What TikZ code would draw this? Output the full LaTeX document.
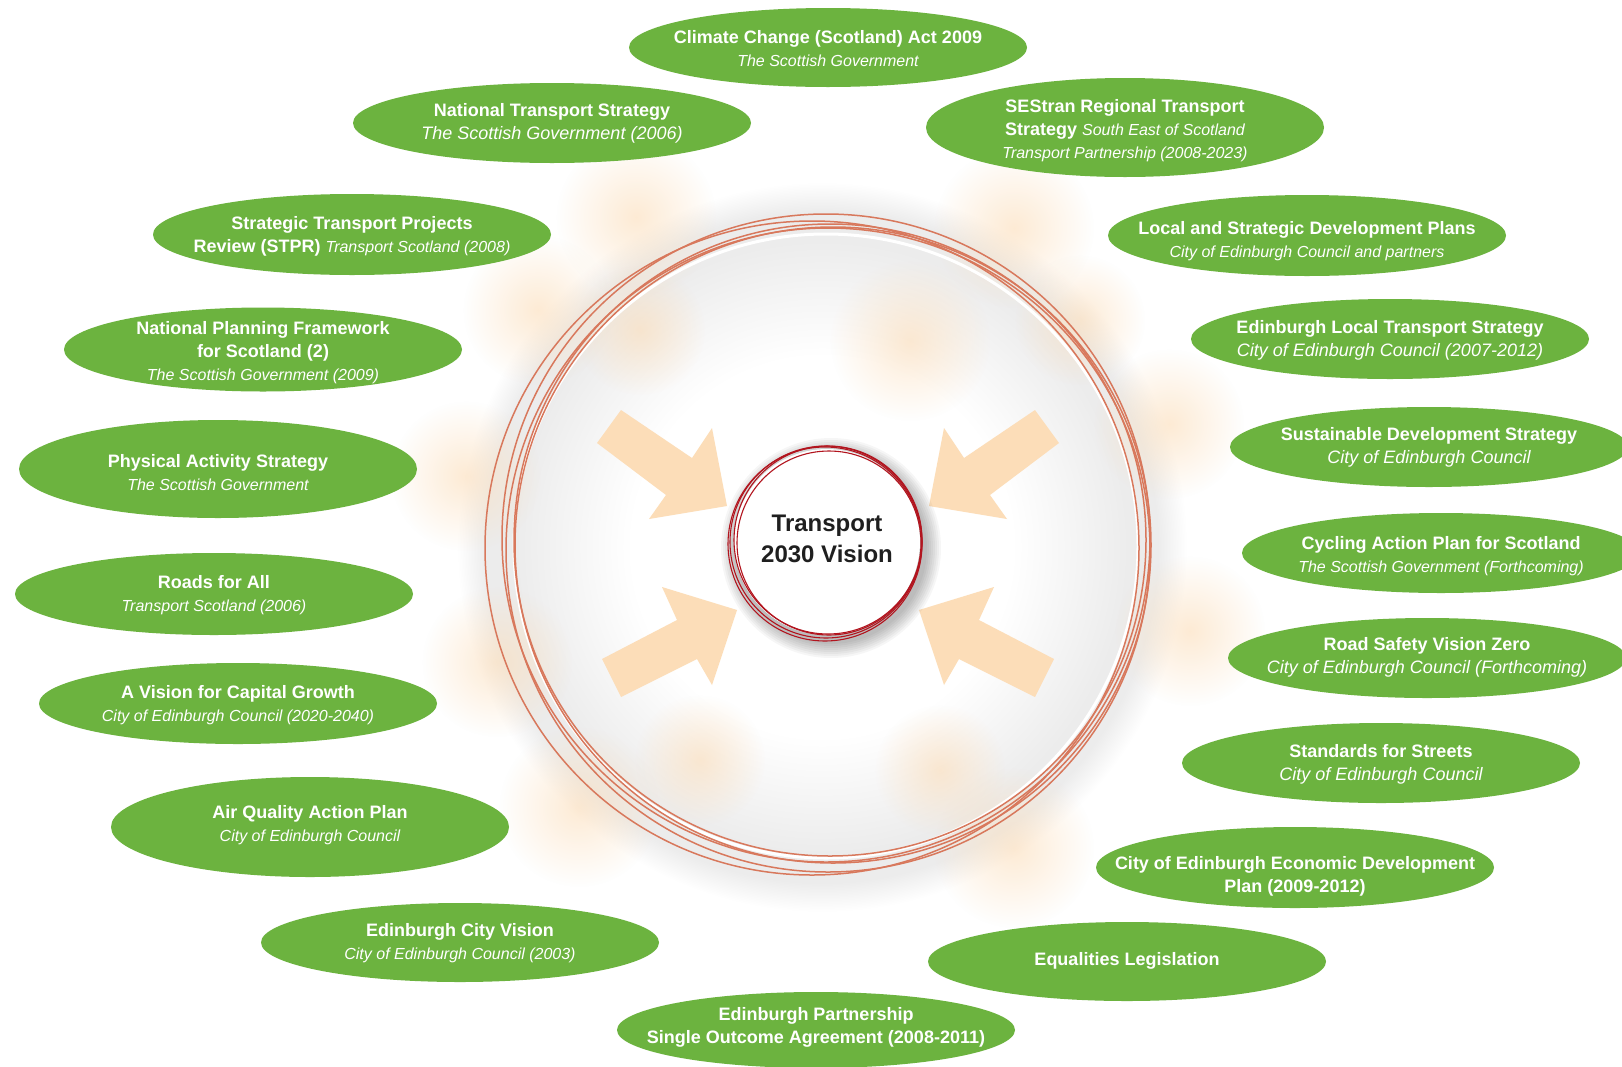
\documentclass[tikz,border=0pt]{standalone}
\usepackage{fontspec}
\setmainfont{Liberation Sans}
\usetikzlibrary{fadings}
\definecolor{bubgreen}{RGB}{108,179,63}
\definecolor{peach}{RGB}{252,221,184}
\definecolor{salmon}{RGB}{216,120,92}
\definecolor{ringred}{RGB}{178,20,30}
\definecolor{hazegray}{RGB}{236,236,236}
\pgfdeclareradialshading{haze}{\pgfpointorigin}{color(0bp)=(white); color(13bp)=(white); color(21bp)=(hazegray); color(23bp)=(hazegray); color(25bp)=(white); color(50bp)=(white)}
\tikzfading[name=softblob, inner color=transparent!40, outer color=transparent!100]
\tikzset{
  bubtext/.style={text=white, align=center, font=\fontsize{18}{23}\selectfont\bfseries, inner sep=0pt},
  bigring/.style={draw=salmon, line width=1.5pt},
  redring/.style={draw=ringred, line width=1.1pt},
  arrowshape/.style={fill=peach},
  blob/.style={fill=peach, path fading=softblob},
  centertext/.style={align=center, font=\fontsize{24}{31}\selectfont\bfseries, text=black!88, inner sep=0pt},
}
\newcommand{\subit}{\fontsize{16}{23}\selectfont\mdseries\itshape}
\newcommand{\subbig}{\fontsize{18}{23}\selectfont\mdseries\itshape}
% name, x, y, y radius, text shift, text
\newcommand{\bub}[6]{\fill[bubgreen] (#2,#3) ellipse [x radius=199pt, y radius=#4pt]; \node[bubtext] (#1) at (#2,#3+#5) {#6};}
\begin{document}
\begin{tikzpicture}[x=1pt,y=-1pt]
\useasboundingbox (0,0) rectangle (1622,1066);
\fill[white] (0,0) rectangle (1622,1066);
% haze round the big ring
\shade[shading=haze] (822,547) circle (365pt);
% soft blobs
\foreach \bx/\by/\br in {636/217/80, 1014/228/80, 538/310/75, 910/341/80, 466/476/75, 1169/424/75, 1190/631/75, 497/662/75, 579/807/80, 1014/848/80, 700/760/65, 940/770/65, 640/330/65, 1080/320/65}
  \fill[blob] (\bx,\by) circle (\br pt);
% big rings
\draw[white, line width=3pt] (826,546) circle (312pt);
\draw[bigring] (812,548) circle (327pt);
\draw[bigring] (830,540) circle (316pt);
\draw[bigring] (833,545) circle (318pt);
\draw[bigring] (828,550) circle (322pt);
\draw[bigring] (826,538) circle (324pt);
% arrows
\fill[arrowshape] (621,410) -- (692,458) -- (712,428) -- (727,506) -- (649,519) -- (666,495) -- (597,443) -- cycle;
\fill[arrowshape] (1035,410) -- (964,458) -- (944,428) -- (929,506) -- (1007,519) -- (990,495) -- (1059,443) -- cycle;
\fill[arrowshape] (602,659) -- (677,620) -- (662,587) -- (737,610) -- (712,685) -- (697,659) -- (621,697) -- cycle;
\fill[arrowshape] (1054,659) -- (979,620) -- (994,587) -- (919,610) -- (944,685) -- (959,659) -- (1035,697) -- cycle;
% inner circle with shadow
\foreach \r in {96,98,...,110}
  \fill[black, opacity=0.035] (831,548) circle (\r pt);
\fill[white] (827,542) circle (93pt);
\draw[redring] (826,542) circle (96pt);
\draw[redring] (828,540) circle (94pt);
\draw[redring] (825,544) circle (97pt);
\draw[redring] (829,543) circle (92pt);
\node[centertext] (core) at (827,539) {Transport\\2030 Vision};
% bubbles
\bub{cc}{828}{47.5}{39.5}{1.5}{Climate Change (Scotland) Act 2009\\{\subit The Scottish Government}}
\bub{nts}{552}{123}{40}{0}{National Transport Strategy\\{\subbig The Scottish Government (2006)}}
\bub{ses}{1125}{127.5}{49.5}{3.5}{SEStran Regional Transport\\Strategy {\subit South East of Scotland}\\{\subit Transport Partnership (2008-2023)}}
\bub{stpr}{352}{234.5}{40.5}{1.5}{Strategic Transport Projects\\Review (STPR) {\subit Transport Scotland (2008)}}
\bub{lsdp}{1307}{235.5}{40.5}{6}{Local and Strategic Development Plans\\{\subit City of Edinburgh Council and partners}}
\bub{npf}{263}{349.5}{42}{3}{National Planning Framework\\for Scotland (2)\\{\subit The Scottish Government (2009)}}
\bub{elts}{1390}{339}{40}{1.5}{Edinburgh Local Transport Strategy\\{\subbig City of Edinburgh Council (2007-2012)}}
\bub{pas}{218}{469}{49}{3.5}{Physical Activity Strategy\\{\subit The Scottish Government}}
\bub{sds}{1429}{447}{40}{0}{Sustainable Development Strategy\\{\subbig City of Edinburgh Council}}
\bub{cap}{1441}{553}{40}{3.5}{Cycling Action Plan for Scotland\\{\subit The Scottish Government (Forthcoming)}}
\bub{rfa}{214}{594}{41}{1}{Roads for All\\{\subit Transport Scotland (2006)}}
\bub{rsvz}{1427}{658}{40}{-1}{Road Safety Vision Zero\\{\subbig City of Edinburgh Council (Forthcoming)}}
\bub{vcg}{238}{703.5}{40.5}{2}{A Vision for Capital Growth\\{\subit City of Edinburgh Council (2020-2040)}}
\bub{sfs}{1381}{763}{40}{1}{Standards for Streets\\{\subbig City of Edinburgh Council}}
\bub{aqap}{310}{827}{50}{-2}{Air Quality Action Plan\\{\subit City of Edinburgh Council}}
\bub{edp}{1295}{867.5}{40.5}{9}{City of Edinburgh Economic Development\\Plan (2009-2012)}
\bub{ecv}{460}{942.5}{39.5}{1}{Edinburgh City Vision\\{\subit City of Edinburgh Council (2003)}}
\bub{eql}{1127}{961.5}{39.5}{-1}{Equalities Legislation}
\bub{ep}{816}{1030}{38}{-2.5}{Edinburgh Partnership\\Single Outcome Agreement (2008-2011)}
\end{tikzpicture}
\end{document}
